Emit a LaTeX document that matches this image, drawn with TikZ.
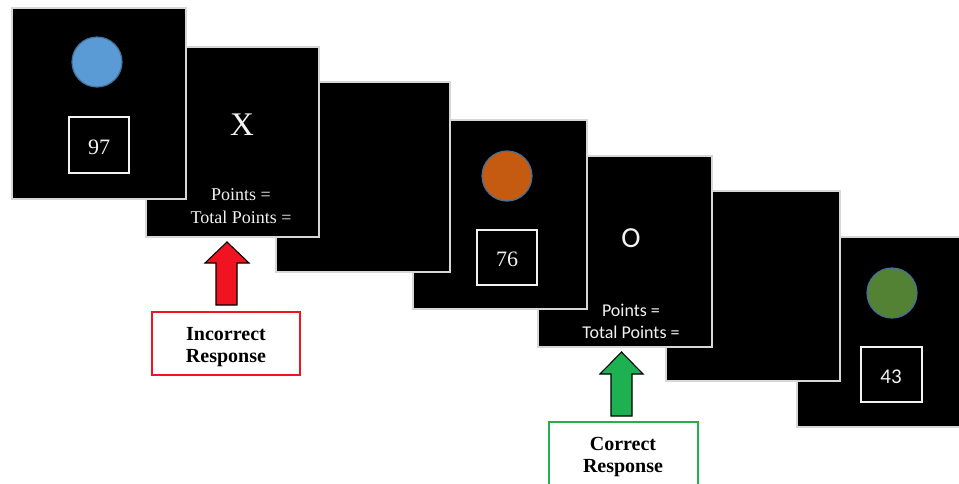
\documentclass[tikz,border=0pt]{standalone}
\usepackage{fontspec}
\setmainfont{Liberation Serif}
\newfontfamily\calibri{Carlito}
\definecolor{rim}{RGB}{215,215,215}
\definecolor{txt}{RGB}{242,242,242}
\definecolor{dotblue}{RGB}{91,155,213}
\definecolor{dotorange}{RGB}{197,90,17}
\definecolor{dotgreen}{RGB}{84,130,53}
\definecolor{dotline}{RGB}{65,113,156}
\definecolor{wrongred}{RGB}{240,20,35}
\definecolor{rightgreen}{RGB}{29,177,82}
\definecolor{rightline}{RGB}{34,177,76}
\tikzset{
  screen/.style={fill=black, draw=rim, line width=1.3pt},
  numbox/.style={draw=txt, line width=2.2pt, fill=black},
  lbl/.style={text=txt, inner sep=0pt, anchor=base},
  captext/.style={text=black, inner sep=0pt, anchor=base, font=\fontsize{20}{20}\selectfont\bfseries},
  arrowshape/.style={draw=black, line width=1.1pt, line join=miter},
}
\begin{document}
\begin{tikzpicture}[x=1pt, y=-1pt]
\useasboundingbox (0,0) rectangle (959,483);
\clip (0,0) rectangle (959,483);

% screens, drawn from last to first so earlier ones lie on top
\draw[screen] (797,237) rectangle (971,427);
\draw[screen] (666,191) rectangle (840,381);
\draw[screen] (538,156) rectangle (712,347);
\draw[screen] (413,120) rectangle (587,309);
\draw[screen] (276,82) rectangle (450,272);
\draw[screen] (146,47) rectangle (319,237);
\draw[screen] (12,8) rectangle (186,199);

% screen 1: stimulus
\fill[dotblue, draw=dotline, line width=1.2pt] (97,62) circle (25);
\draw[numbox] (69,117) rectangle (129,173);
\node[lbl, font=\fontsize{22}{22}\selectfont] (n97) at (99,154) {97};

% screen 2: feedback
\node[lbl, font=\fontsize{33}{33}\selectfont] (x) at (242,135) {X};
\node[lbl, font=\fontsize{18}{18}\selectfont] (p1) at (241,200) {Points =};
\node[lbl, font=\fontsize{18}{18}\selectfont] (tp1) at (241,223) {Total Points =};

% screen 4: stimulus
\fill[dotorange, draw=dotline, line width=1.2pt] (507,176) circle (25);
\draw[numbox] (477,230) rectangle (537,285);
\node[lbl, font=\fontsize{22}{22}\selectfont] (n76) at (507,266) {76};

% screen 5: feedback
\node[lbl, font=\calibri\fontsize{29}{29}\selectfont] (o) at (631,247) {O};
\node[lbl, font=\calibri\fontsize{18}{18}\selectfont] (p2) at (631,316) {Points =};
\node[lbl, font=\calibri\fontsize{18}{18}\selectfont] (tp2) at (631,338) {Total Points =};

% screen 7: stimulus
\fill[dotgreen, draw=dotline, line width=1.2pt] (892,293) circle (25);
\draw[numbox] (861,347) rectangle (922,402);
\node[lbl, font=\calibri\fontsize{21}{21}\selectfont] (n43) at (891,383) {43};

% response arrows
\draw[arrowshape, fill=wrongred] (227,242) -- (249,263) -- (237,263) -- (237,305)
  -- (216,305) -- (216,263) -- (205,263) -- cycle;
\draw[arrowshape, fill=rightgreen] (621.5,352) -- (643,374) -- (632,374) -- (632,416)
  -- (611,416) -- (611,374) -- (600,374) -- cycle;

% response captions
\draw[wrongred, line width=1.4pt] (152,312) rectangle (300,375);
\node[captext] (inc) at (226,340) {Incorrect};
\node[captext] (resp1) at (226,362) {Response};

\draw[rightline, line width=1.4pt] (549,422) rectangle (698,492);
\node[captext] (cor) at (623,450) {Correct};
\node[captext] (resp2) at (623,472) {Response};
\end{tikzpicture}
\end{document}
